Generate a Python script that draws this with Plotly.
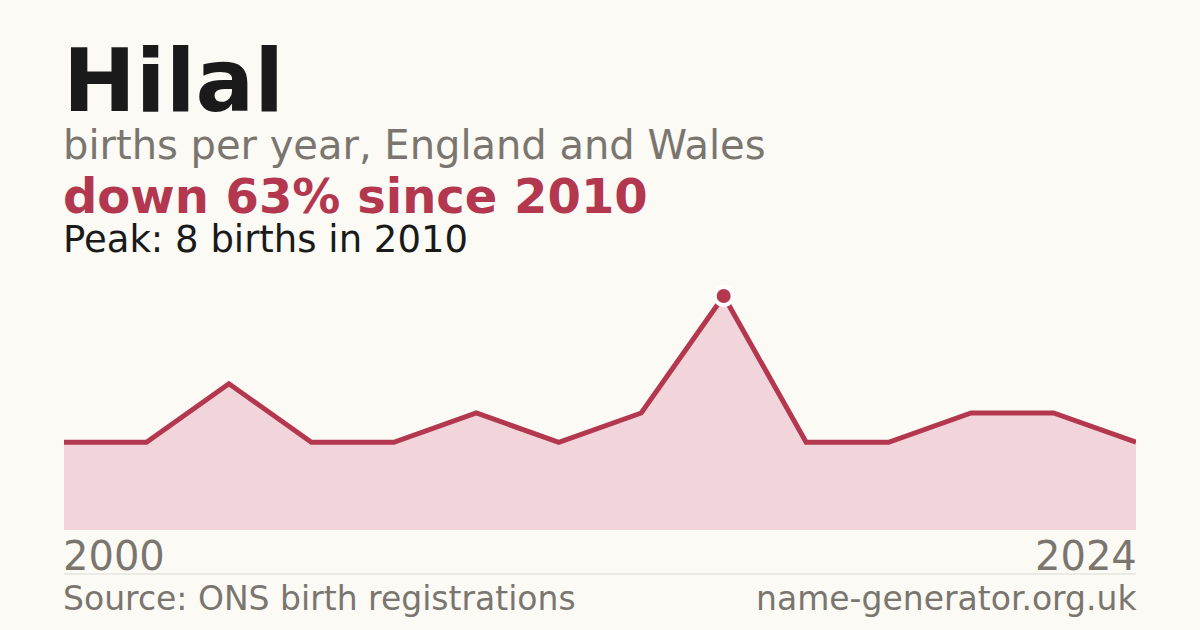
import plotly.graph_objects as go

# data
years = ["2000", "2001", "2002", "2004", "2005", "2006", "2007",
         "2009", "2010", "2012", "2015", "2018", "2021", "2024"]
births = [3, 3, 5, 3, 3, 4, 3, 4, 8, 3, 3, 4, 4, 3]
peak_year = "2010"
peak_value = 8

title = "Hilal"
subtitle = "births per year, England and Wales"
headline = "down 63% since 2010"
peak_text = "Peak: 8 births in 2010"
source = "Source: ONS birth registrations"
site = "name-generator.org.uk"

RED = "#b3384f"
GREY = "#7a766f"
BG = "#fbfaf5"

# plot area in pixels
W, H = 1200, 630
L, R, T, B = 64, 64, 270, 100
PH = H - T - B


def py(y_pix):
    # pixel row -> paper y
    return (H - B - y_pix) / PH


fig = go.Figure()

fig.add_trace(go.Scatter(
    x=years, y=births,
    mode="lines",
    line=dict(color=RED, width=5),
    fill="tozeroy",
    fillcolor="#f2d5da",
    hoverinfo="skip",
))

fig.add_trace(go.Scatter(
    x=[peak_year], y=[peak_value],
    mode="markers",
    marker=dict(size=18, color=RED, line=dict(color="white", width=4)),
    hoverinfo="skip",
))

font = "DejaVu Sans"
texts = [
    (title, 0, 81, 87, "#1a1a1a", "left", True),
    (subtitle, 0, 145, 40, GREY, "left", False),
    (headline, 0, 196, 48, RED, "left", True),
    (peak_text, 0, 239, 37, "#1a1a1a", "left", False),
    (years[0], 0, 556, 40, GREY, "left", False),
    (years[-1], 1, 556, 40, GREY, "right", False),
    (source, 0, 598, 33, GREY, "left", False),
    (site, 1, 598, 33, GREY, "right", False),
]

annotations = []
for txt, x, y, size, color, anchor, bold in texts:
    annotations.append(dict(
        text="<b>%s</b>" % txt if bold else txt,
        x=x, y=py(y), xref="paper", yref="paper",
        xanchor=anchor, yanchor="middle",
        xshift=-3 if anchor == "left" else 3,
        showarrow=False,
        font=dict(family=font, size=size, color=color),
    ))

fig.update_layout(
    width=W, height=H,
    margin=dict(l=L, r=R, t=T, b=B),
    paper_bgcolor=BG,
    plot_bgcolor=BG,
    showlegend=False,
    annotations=annotations,
    shapes=[dict(
        type="line", xref="paper", yref="paper",
        x0=0, x1=1, y0=py(574), y1=py(574),
        line=dict(color="#dddad3", width=1),
    )],
    xaxis=dict(type="category", range=[0, len(years) - 1],
               showgrid=False, zeroline=False, showticklabels=False,
               fixedrange=True),
    yaxis=dict(range=[0, PH / 29.25], showgrid=False, zeroline=False,
               showticklabels=False, fixedrange=True),
)

# drop the default page margin so the figure fills the window
fig.write_html("out.html", config={"displayModeBar": False},
               post_script="document.body.style.margin='0';"
                           "document.body.style.background='%s';" % BG)
